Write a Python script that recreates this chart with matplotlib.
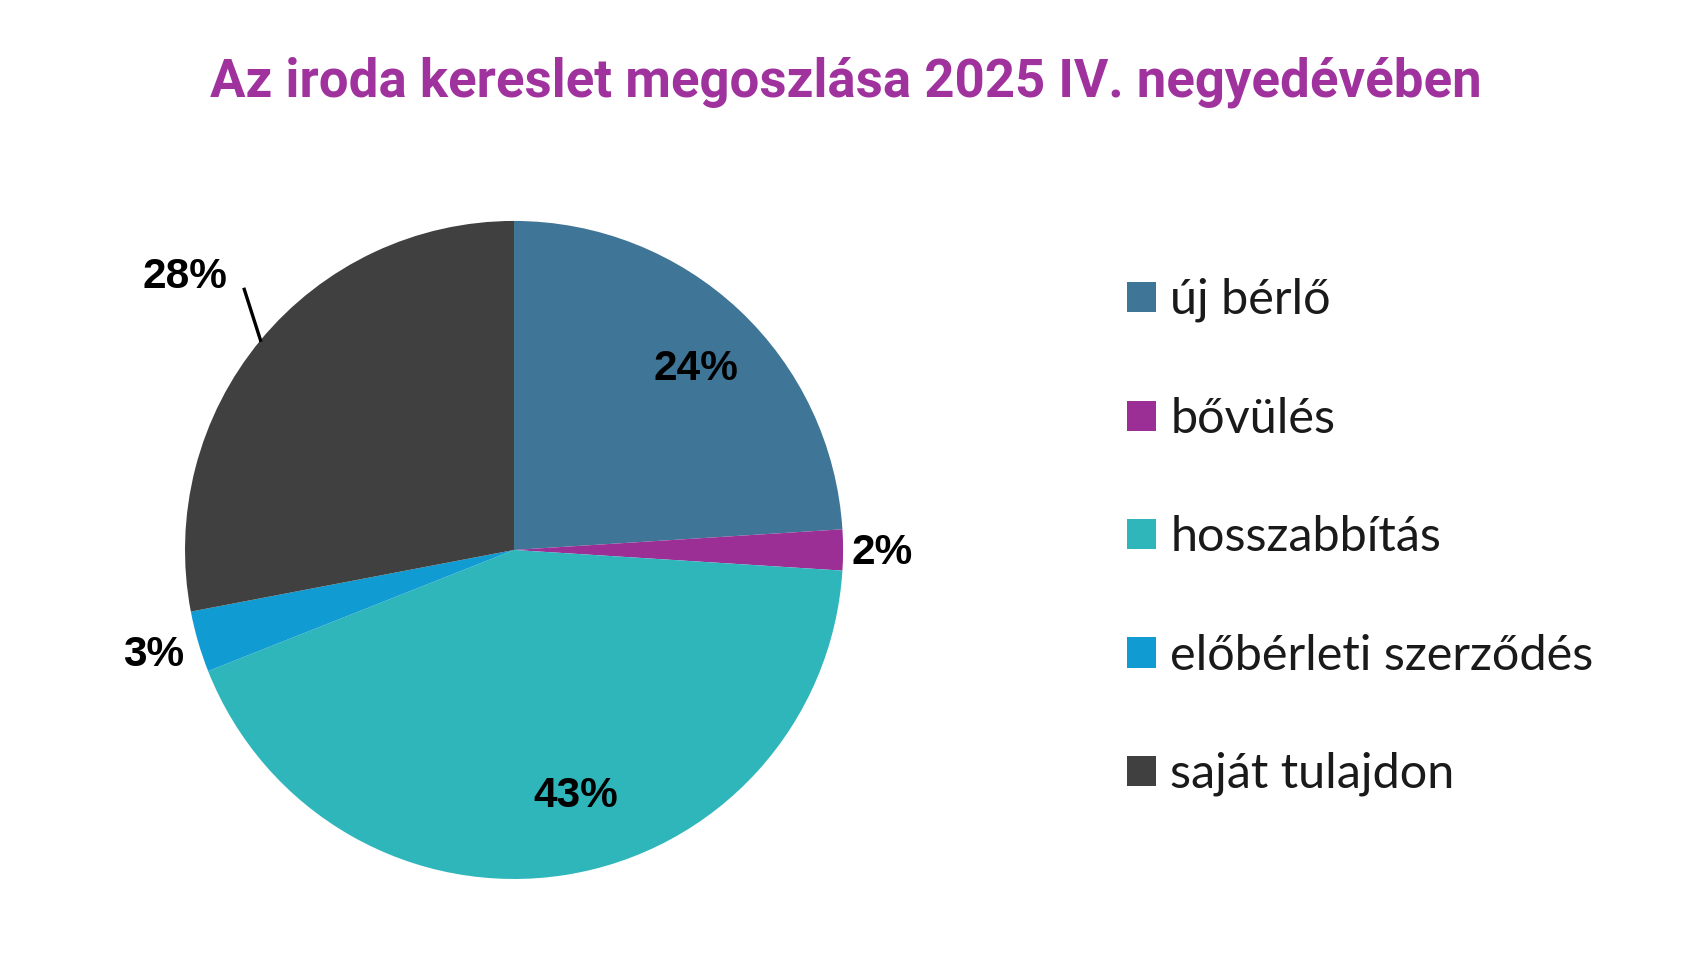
import matplotlib
matplotlib.use("Agg")
import matplotlib.pyplot as plt
import numpy as np

# data
categories = ["új bérlő", "bővülés", "hosszabbítás", "előbérleti szerződés", "saját tulajdon"]
shares = [24, 2, 43, 3, 28]
colors = ["#3F7596", "#9B2F96", "#2EB6BA", "#109BD3", "#404040"]
label_dist = [0.78, 1.12, 0.77, 1.14, 1.30]   # radial position of the % labels
label_turn = [-2, -0.5, 5, 0, 0]               # small angular nudge (deg)

fig = plt.figure(figsize=(16.92, 9.72), dpi=100)
ax = fig.add_axes([0.1093, 0.0957, 0.389, 0.677])

wedges, _ = ax.pie(shares, colors=colors, startangle=90, counterclock=False,
                   radius=1.0, wedgeprops=dict(linewidth=0))
ax.set_xlim(-1, 1)
ax.set_ylim(-1, 1)
ax.set_aspect("equal")
ax.axis("off")

# percentage labels
for w, v, d, t in zip(wedges, shares, label_dist, label_turn):
    mid = np.deg2rad((w.theta1 + w.theta2) / 2 + t)
    ax.text(d * np.cos(mid), d * np.sin(mid), f"{v}%", ha="center", va="center",
            fontsize=30.5, fontweight="bold", family=["Liberation Sans", "DejaVu Sans"],
            color="black", clip_on=False)
    if d > 1.2:
        # leader line for the far-out label
        ax.plot([1.0 * np.cos(mid), 1.14 * np.cos(mid - 0.077)],
                [1.0 * np.sin(mid), 1.14 * np.sin(mid - 0.077)],
                color="black", lw=2.4, clip_on=False)

fig.text(0.5, 0.915, "Az iroda kereslet megoszlása 2025 IV. negyedévében",
         ha="center", va="center", fontsize=38, fontweight="bold", color="#A0329E",
         family=["Liberation Sans Narrow", "Roboto", "DejaVu Sans"])

leg = fig.legend(wedges, categories, loc="upper left", bbox_to_anchor=(0.652, 0.739),
                 frameon=False, fontsize=35, handlelength=0.58, handleheight=0.58,
                 handletextpad=0.3, labelspacing=1.53, borderpad=0)
for t in leg.get_texts():
    t.set_family(["Lato", "DejaVu Sans"])
    t.set_color("#1a1a1a")

fig.savefig("out.png", dpi=100, facecolor="white")
